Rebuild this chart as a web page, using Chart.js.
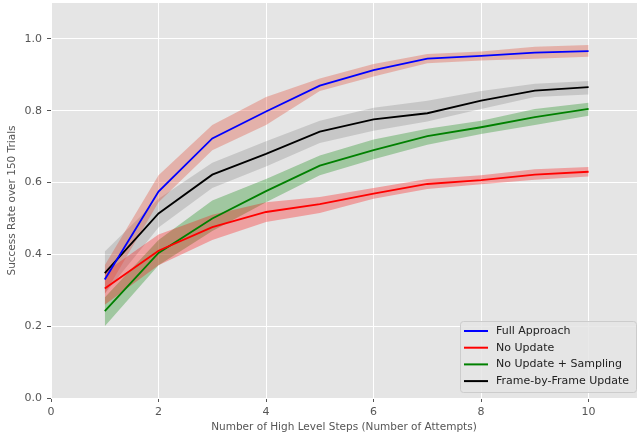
<!DOCTYPE html>
<html>
<head>
<meta charset="utf-8">
<script src="https://cdn.jsdelivr.net/npm/chart.js@4"></script>
<style>
  html,body{margin:0;padding:0;background:#fff;}
  #wrap{width:639px;height:435px;}
</style>
</head>
<body>
<div id="wrap"><canvas id="mainChart" width="639" height="435"></canvas></div>
<script>
const steps = [1,2,3,4,5,6,7,8,9,10];
const xTicks = [0,2,4,6,8,10];
const yTicks = [0,0.2,0.4,0.6,0.8,1.0];

const fullMean = [0.33,0.575,0.723,0.798,0.87,0.913,0.945,0.953,0.962,0.966];
const fullLo   = [0.29,0.545,0.69,0.76,0.855,0.895,0.932,0.94,0.945,0.95];
const fullHi   = [0.37,0.62,0.76,0.838,0.89,0.93,0.958,0.965,0.978,0.983];

const noUpdMean = [0.305,0.41,0.476,0.518,0.54,0.569,0.596,0.607,0.622,0.63];
const noUpdLo   = [0.26,0.37,0.44,0.49,0.515,0.555,0.582,0.595,0.608,0.617];
const noUpdHi   = [0.35,0.455,0.51,0.545,0.56,0.585,0.61,0.62,0.637,0.643];

const sampMean = [0.242,0.404,0.5,0.576,0.647,0.69,0.729,0.754,0.782,0.805];
const sampLo   = [0.2,0.37,0.465,0.545,0.62,0.665,0.705,0.735,0.76,0.786];
const sampHi   = [0.28,0.44,0.55,0.61,0.675,0.72,0.75,0.772,0.805,0.822];

const frameMean = [0.348,0.514,0.622,0.68,0.742,0.776,0.793,0.828,0.856,0.866];
const frameLo   = [0.29,0.475,0.585,0.645,0.71,0.744,0.77,0.805,0.838,0.845];
const frameHi   = [0.408,0.555,0.655,0.715,0.772,0.808,0.828,0.855,0.875,0.883];

const series = [
  {label:"Full Approach", mean:fullMean, lo:fullLo, hi:fullHi, color:"#0000ff", band:"rgba(226,74,51,0.33)"},
  {label:"No Update", mean:noUpdMean, lo:noUpdLo, hi:noUpdHi, color:"#ff0000", band:"rgba(255,0,0,0.3)"},
  {label:"No Update + Sampling", mean:sampMean, lo:sampLo, hi:sampHi, color:"#008000", band:"rgba(0,128,0,0.3)"},
  {label:"Frame-by-Frame Update", mean:frameMean, lo:frameLo, hi:frameHi, color:"#000000", band:"rgba(0,0,0,0.13)"}
];

function pts(arr){
  return arr.map((v,i)=>({x:steps[i], y:v}));
}

const datasets = [];
series.forEach(s=>{
  datasets.push({label:s.label+" lo", data:pts(s.lo), borderWidth:0, pointRadius:0, fill:false, order:2});
  datasets.push({label:s.label+" hi", data:pts(s.hi), borderWidth:0, pointRadius:0, fill:"-1", backgroundColor:s.band, order:2});
});
series.forEach(s=>{
  datasets.push({label:s.label, data:pts(s.mean), borderColor:s.color, backgroundColor:s.color, borderWidth:1.8, pointRadius:0, fill:false, order:1, tension:0});
});

// grey plotting area
const plotBg = {
  id:"plotBg",
  beforeDraw(chart){
    const {ctx, chartArea:a} = chart;
    ctx.save();
    ctx.fillStyle = "#e5e5e5";
    ctx.fillRect(a.left, a.top, a.right-a.left, a.bottom-a.top);
    ctx.restore();
  }
};

// legend box in the lower right corner
const legendBox = {
  id:"legendBox",
  afterDraw(chart){
    const ctx = chart.ctx;
    const a = chart.chartArea;
    const w = 177, h = 71;
    const x0 = a.right - w, y0 = a.bottom - h - 6;
    ctx.save();
    ctx.fillStyle = "rgba(229,229,229,0.85)";
    ctx.strokeStyle = "#cccccc";
    ctx.lineWidth = 1;
    ctx.beginPath();
    ctx.roundRect(x0+0.5, y0+0.5, w-1, h, 3);
    ctx.fill();
    ctx.stroke();
    ctx.font = "11px 'DejaVu Sans'";
    ctx.textBaseline = "middle";
    ctx.fillStyle = "#222";
    series.forEach((s,i)=>{
      const yy = y0 + 10 + i*16.7;
      ctx.strokeStyle = s.color;
      ctx.lineWidth = 2;
      ctx.beginPath();
      ctx.moveTo(x0+4, yy);
      ctx.lineTo(x0+28, yy);
      ctx.stroke();
      ctx.fillText(s.label, x0+36, yy);
    });
    ctx.restore();
  }
};

const tickFont = {family:"'DejaVu Sans'", size:11};
const titleFont = {family:"'DejaVu Sans'", size:10.5};

new Chart(document.getElementById("mainChart").getContext("2d"), {
  type:"line",
  data:{datasets},
  options:{
    responsive:false,
    animation:false,
    layout:{padding:{top:3,right:2,left:0,bottom:0}},
    plugins:{legend:{display:false}, tooltip:{enabled:false}},
    scales:{
      x:{
        type:"linear", min:0, max:10.9,
        afterBuildTicks(scale){ scale.ticks = xTicks.map(v=>({value:v})); },
        afterFit(scale){ scale.height = 37; scale.paddingLeft = 0; scale.paddingRight = 0; },
        grid:{color:"#ffffff", lineWidth:1, drawTicks:true, tickLength:4, tickColor:"#555"},
        border:{display:false},
        ticks:{color:"#555", font:tickFont, padding:4, maxRotation:0, callback:v=>String(v)},
        title:{display:true, text:"Number of High Level Steps (Number of Attempts)", color:"#555", font:titleFont, padding:{top:0,bottom:1}}
      },
      y:{
        type:"linear", min:0, max:1.1,
        afterBuildTicks(scale){ scale.ticks = yTicks.map(v=>({value:v})); },
        afterFit(scale){ scale.width = 51; scale.paddingTop = 0; scale.paddingBottom = 0; },
        grid:{color:"#ffffff", lineWidth:1, drawTicks:true, tickLength:4, tickColor:"#555"},
        border:{display:false},
        ticks:{color:"#555", font:tickFont, padding:5, callback:v=>Number(v).toFixed(1)},
        title:{display:true, text:"Success Rate over 150 Trials", color:"#555", font:titleFont, padding:{top:6,bottom:0}}
      }
    }
  },
  plugins:[plotBg, legendBox]
});
</script>
</body>
</html>
